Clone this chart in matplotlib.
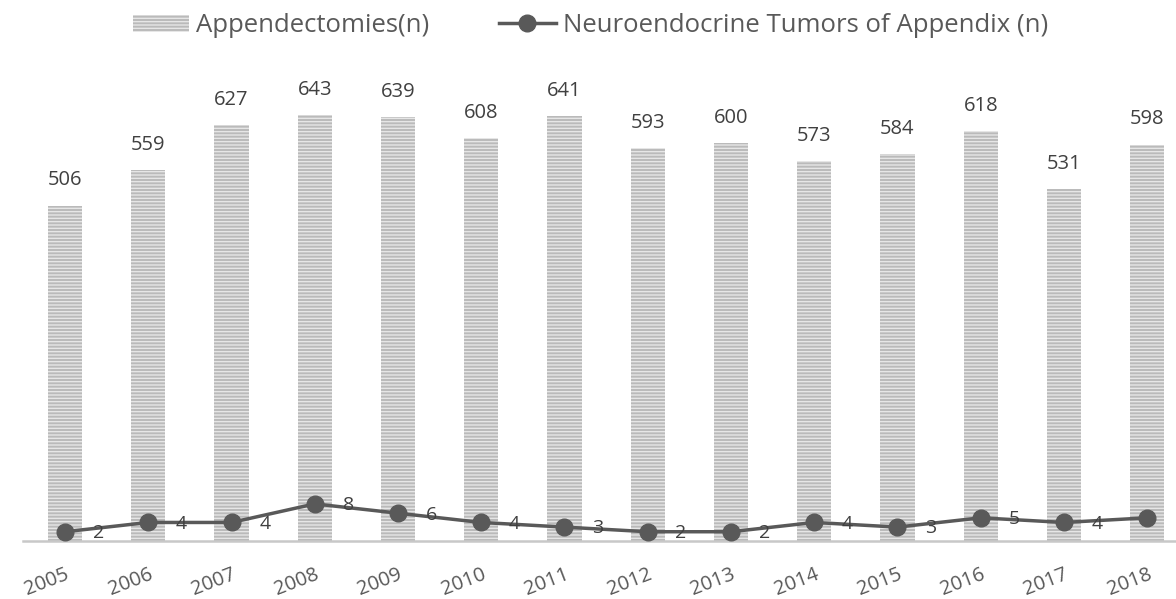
import matplotlib.pyplot as plt
import numpy as np

plt.rcParams['font.family'] = ['Open Sans', 'DejaVu Sans']
plt.rcParams['hatch.linewidth'] = 1.0

years = ['2005', '2006', '2007', '2008', '2009', '2010', '2011',
         '2012', '2013', '2014', '2015', '2016', '2017', '2018']
appendectomies = [506, 559, 627, 643, 639, 608, 641, 593, 600, 573, 584, 618, 531, 598]
net_tumors = [2, 4, 4, 8, 6, 4, 3, 2, 2, 4, 3, 5, 4, 5]

bar_face = '#bababa'
line_col = '#595959'
text_col = '#404040'

fig = plt.figure(figsize=(11.76, 5.99), dpi=100)
# right edge reaches past the figure, the original is cropped there
ax = fig.add_axes([0.0199, 0.0968, 0.991, 0.7746])
x = np.arange(len(years))

bars = ax.bar(x, appendectomies, width=0.41, color=bar_face, edgecolor='#e6e6e6',
              hatch='-----', linewidth=0, label='Appendectomies(n)')
for xi, v in zip(x, appendectomies):
    ax.annotate(str(v), (xi, v), xytext=(0, 11), textcoords='offset points',
                ha='center', va='bottom', fontsize=14.5, color=text_col)

ax.set_xlim(-0.5, len(years) - 0.5)
ax.set_ylim(0, 700)
ax.set_yticks([])
for s in ['top', 'right', 'left']:
    ax.spines[s].set_visible(False)
ax.spines['bottom'].set_color('#c8c8c8')
ax.spines['bottom'].set_linewidth(1.8)
ax.set_xticks(x)
ax.set_xticklabels(years, rotation=21, ha='right', rotation_mode='anchor',
                   fontsize=14.5, color=line_col)
ax.tick_params(axis='x', length=0, pad=17)

ax2 = ax.twinx()
ax2.set_ylim(0, 100)
ax2.set_axis_off()
line, = ax2.plot(x, net_tumors, color=line_col, linewidth=2.5, marker='o',
                 markersize=12, label='Neuroendocrine Tumors of Appendix (n)')
for xi, v in zip(x, net_tumors):
    ax2.annotate(str(v), (xi, v), xytext=(24, -1), textcoords='offset points',
                 ha='center', va='center', fontsize=14, color=text_col)

fig.legend(handles=[bars, line], loc='center', bbox_to_anchor=(0.502, 0.957),
           ncol=2, frameon=False, fontsize=18.5, labelcolor=line_col,
           handlelength=2.2, handleheight=0.66, columnspacing=2.7, handletextpad=0.27)

fig.savefig('out.png', dpi=100)
